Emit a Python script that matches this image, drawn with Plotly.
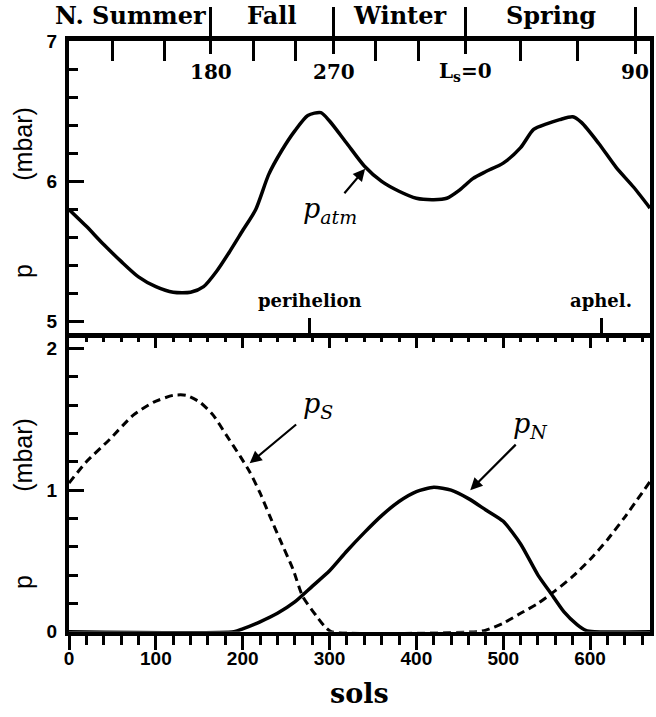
import plotly.graph_objects as go

# ---------------- data ----------------
sols_atm = [0, 20, 40, 60, 80, 100, 120, 140, 155, 170, 185, 200, 215, 230, 245, 260, 275, 290,
            300, 320, 340, 360, 380, 400, 420, 435, 450, 465, 480,
            500, 520, 535, 550, 565, 580, 590, 610, 630, 650, 669]
p_atm = [5.80, 5.68, 5.55, 5.43, 5.32, 5.25, 5.21, 5.21, 5.25, 5.36, 5.50, 5.65, 5.80, 6.05, 6.22, 6.36, 6.47, 6.49,
         6.43, 6.27, 6.11, 6.00, 5.93, 5.88, 5.87, 5.88, 5.94, 6.02, 6.07,
         6.13, 6.24, 6.37, 6.41, 6.44, 6.46, 6.42, 6.27, 6.10, 5.96, 5.81]

sols_s = [0, 20, 47, 74, 97, 120, 135, 151, 166, 181, 197, 208, 220, 231, 243, 258, 269, 285, 294, 302,
          470, 480, 500, 520, 540, 560, 580, 600, 620, 640, 669]
p_s = [1.05, 1.20, 1.36, 1.53, 1.62, 1.67, 1.67, 1.62, 1.53, 1.39, 1.24, 1.13, 0.98, 0.82, 0.65, 0.44, 0.25, 0.11, 0.04, 0.0,
       0.0, 0.01, 0.06, 0.13, 0.20, 0.29, 0.39, 0.51, 0.65, 0.81, 1.06]

sols_n = [0, 190, 200, 220, 240, 260, 280, 300, 320, 340, 360, 380, 400, 420, 440, 460, 480, 500,
          520, 540, 555, 570, 585, 595, 605, 669]
p_n = [0.0, 0.0, 0.02, 0.07, 0.13, 0.21, 0.32, 0.43, 0.57, 0.70, 0.82, 0.92, 0.99, 1.02, 1.00, 0.94, 0.86, 0.78,
       0.62, 0.40, 0.27, 0.14, 0.05, 0.01, 0.0, 0.0]

sol_ticks = [0, 100, 200, 300, 400, 500, 600]
upper_y_ticks = [5, 6, 7]
lower_y_ticks = [0, 1, 2]
ls_major_sols = [163, 305, 457, 652]
ls_major_labels = ["180", "270", "L<sub>s</sub>=0", "90"]
ls_minor_sols = [50, 110, 213, 261, 353, 402, 520, 585]
orbit_sols = [277, 613]
orbit_labels = ["perihelion", "aphel."]
season_labels = ["N. Summer", "Fall", "Winter", "Spring"]

# ---------------- layout helpers ----------------
W, H = 656, 717
PX_L, PX_R = 69, 650
PY_TOP, PY_MID, PY_BOT = 41, 333, 631.7
X_RANGE = [0, 669]
UP_RANGE = [4.92, 7.0]
LO_RANGE = [0, 2.11]


def px(x):
    return x / W


def py(y):
    return 1 - y / H


SERIF = "DejaVu Serif"
SANS = "Liberation Sans"
BLACK = "black"

fig = go.Figure()
fig.add_trace(go.Scatter(x=sols_atm, y=p_atm, mode="lines", xaxis="x", yaxis="y",
                         line=dict(color=BLACK, width=3.5, shape="spline", smoothing=0.7),
                         showlegend=False, hoverinfo="skip"))
fig.add_trace(go.Scatter(x=sols_s, y=p_s, mode="lines", xaxis="x2", yaxis="y2",
                         line=dict(color=BLACK, width=3, dash="8px,5px", shape="spline", smoothing=0.6),
                         showlegend=False, hoverinfo="skip"))
fig.add_trace(go.Scatter(x=sols_n, y=p_n, mode="lines", xaxis="x2", yaxis="y2",
                         line=dict(color=BLACK, width=3.5, shape="spline", smoothing=0.6),
                         showlegend=False, hoverinfo="skip"))
# empty traces so that the overlaying tick-only axes are created
for xa, ya in [("x3", "y"), ("x4", "y"), ("x5", "y2")]:
    fig.add_trace(go.Scatter(x=[], y=[], mode="lines", xaxis=xa, yaxis=ya,
                             showlegend=False, hoverinfo="skip"))

xdom = [px(PX_L), px(PX_R)]
common_x = dict(range=X_RANGE, domain=xdom, showgrid=False, zeroline=False, fixedrange=True,
                automargin=False)

tickfont_sans = dict(family=SANS, size=19, color=BLACK, weight="bold")

fig.update_layout(
    width=W, height=H, autosize=False,
    margin=dict(l=0, r=0, t=0, b=0, pad=0, autoexpand=False),
    paper_bgcolor="white", plot_bgcolor="white",
    showlegend=False,
    # upper panel bottom (perihelion / aphelion ticks) -- also the thick boundary line
    xaxis=dict(**common_x, anchor="y", side="bottom", showline=True, linewidth=5, linecolor=BLACK,
               mirror=True, tickmode="array", tickvals=orbit_sols, ticks="inside", ticklen=15,
               tickwidth=3, tickcolor=BLACK, showticklabels=False),
    yaxis=dict(domain=[py(PY_MID), py(PY_TOP)], range=UP_RANGE, anchor="x", showgrid=False,
               zeroline=False, showline=True, linewidth=4, linecolor=BLACK, mirror=True, automargin=False,
               tickmode="array", tickvals=upper_y_ticks, ticks="inside", ticklen=15, tickwidth=3,
               tickcolor=BLACK, tickfont=tickfont_sans, ticklabelstandoff=4,
               minor=dict(dtick=0.2, tick0=0, ticks="inside", ticklen=9, tickwidth=2.5, tickcolor=BLACK)),
    # upper panel top: Ls ticks
    xaxis3=dict(**common_x, overlaying="x", anchor="y", side="top", showline=False,
                tickmode="array", tickvals=ls_major_sols, ticks="outside", ticklen=33, tickwidth=3,
                tickcolor=BLACK, showticklabels=False,
                minor=dict(tickmode="array", tickvals=ls_minor_sols, ticks="inside", ticklen=20,
                           tickwidth=3, tickcolor=BLACK)),
    xaxis4=dict(**common_x, overlaying="x", anchor="y", side="top", showline=False,
                tickmode="array", tickvals=ls_major_sols, ticks="inside", ticklen=13, tickwidth=3,
                tickcolor=BLACK, showticklabels=False),
    # lower panel
    xaxis2=dict(**common_x, anchor="y2", side="bottom", showline=True, linewidth=4, linecolor=BLACK,
                tickmode="array", tickvals=sol_ticks, ticks="outside", ticklen=14, tickwidth=3,
                tickcolor=BLACK, tickfont=tickfont_sans, ticklabelstandoff=-8,
                minor=dict(dtick=20, tick0=0, ticks="outside", ticklen=9, tickwidth=2.5, tickcolor=BLACK)),
    xaxis5=dict(**common_x, overlaying="x2", anchor="y2", side="top", showline=False,
                tickmode="array", tickvals=sol_ticks, ticks="inside", ticklen=15,
                tickwidth=3, tickcolor=BLACK, showticklabels=False,
                minor=dict(dtick=20, tick0=0, ticks="inside", ticklen=9, tickwidth=2.5, tickcolor=BLACK)),
    yaxis2=dict(domain=[py(PY_BOT), py(PY_MID)], range=LO_RANGE, anchor="x2", showgrid=False,
                zeroline=False, showline=True, linewidth=4, linecolor=BLACK, mirror=True, automargin=False,
                tickmode="array", tickvals=lower_y_ticks, ticks="inside", ticklen=15, tickwidth=3,
                tickcolor=BLACK, tickfont=tickfont_sans, ticklabelstandoff=4,
                minor=dict(dtick=0.2, tick0=0, ticks="inside", ticklen=9, tickwidth=2.5, tickcolor=BLACK)),
)

ann = []
serif_bold = dict(family=SERIF, size=20, color=BLACK, weight="bold")
season_font = dict(family=SERIF, size=24, color=BLACK, weight="bold")

# Ls labels under the long ticks
for s, lab in zip(ls_major_sols, ls_major_labels):
    ann.append(dict(x=s, xref="x", y=py(72), yref="paper", text=lab, showarrow=False,
                    font=serif_bold, xanchor="center", yanchor="middle"))

# season labels above the frame
season_x = [None,
            (ls_major_sols[0] + ls_major_sols[1]) / 2,
            (ls_major_sols[1] + ls_major_sols[2]) / 2,
            (ls_major_sols[2] + ls_major_sols[3]) / 2]
for i, lab in enumerate(season_labels):
    if i == 0:
        ann.append(dict(x=ls_major_sols[0], xref="x", y=py(16), yref="paper", text=lab,
                        showarrow=False, font=season_font, xanchor="right", yanchor="middle", xshift=-3))
    else:
        ann.append(dict(x=season_x[i], xref="x", y=py(16), yref="paper", text=lab,
                        showarrow=False, font=season_font, xanchor="center", yanchor="middle"))

# perihelion / aphelion labels
for s, lab in zip(orbit_sols, orbit_labels):
    ann.append(dict(x=s, xref="x", y=py(300), yref="paper", text=lab, showarrow=False,
                    font=dict(family=SERIF, size=18, color=BLACK, weight="bold"),
                    xanchor="center", yanchor="middle"))

# curve labels and arrows
lab_font = dict(family=SERIF, size=27, color=BLACK)
ann += [
    dict(x=300, y=5.79, xref="x", yref="y", text="<i>p</i><sub><i>atm</i></sub>", showarrow=False,
         font=lab_font, xanchor="center", yanchor="middle"),
    dict(x=341, y=6.09, xref="x", yref="y", text="", showarrow=True, ax=-22, ay=26,
         arrowhead=2, arrowsize=1.1, arrowwidth=2.2, arrowcolor=BLACK),
    dict(x=287, y=1.60, xref="x2", yref="y2", text="<i>p</i><sub><i>S</i></sub>", showarrow=False,
         font=lab_font, xanchor="center", yanchor="middle"),
    dict(x=208, y=1.19, xref="x2", yref="y2", text="", showarrow=True, ax=48, ay=-40,
         arrowhead=2, arrowsize=1.1, arrowwidth=2.2, arrowcolor=BLACK),
    dict(x=531, y=1.46, xref="x2", yref="y2", text="<i>p</i><sub><i>N</i></sub>", showarrow=False,
         font=lab_font, xanchor="center", yanchor="middle"),
    dict(x=462, y=1.00, xref="x2", yref="y2", text="", showarrow=True, ax=47, ay=-47,
         arrowhead=2, arrowsize=1.1, arrowwidth=2.2, arrowcolor=BLACK),
]

# axis titles
gap = "\u00a0" * 12
ytitle_font = dict(family=SANS, size=25, color=BLACK)
ann += [
    dict(x=px(23), y=py(193), xref="paper", yref="paper", text="p" + gap + "(mbar)",
         textangle=-90, showarrow=False, font=ytitle_font, xanchor="center", yanchor="middle"),
    dict(x=px(23), y=py(504), xref="paper", yref="paper", text="p" + gap + "(mbar)",
         textangle=-90, showarrow=False, font=ytitle_font, xanchor="center", yanchor="middle"),
    dict(x=px((PX_L + PX_R) / 2), y=py(693), xref="paper", yref="paper", text="sols",
         showarrow=False, font=dict(family=SERIF, size=27, color=BLACK, weight="bold"),
         xanchor="center", yanchor="middle"),
]

fig.update_layout(annotations=ann)
fig.write_html("out.html")
